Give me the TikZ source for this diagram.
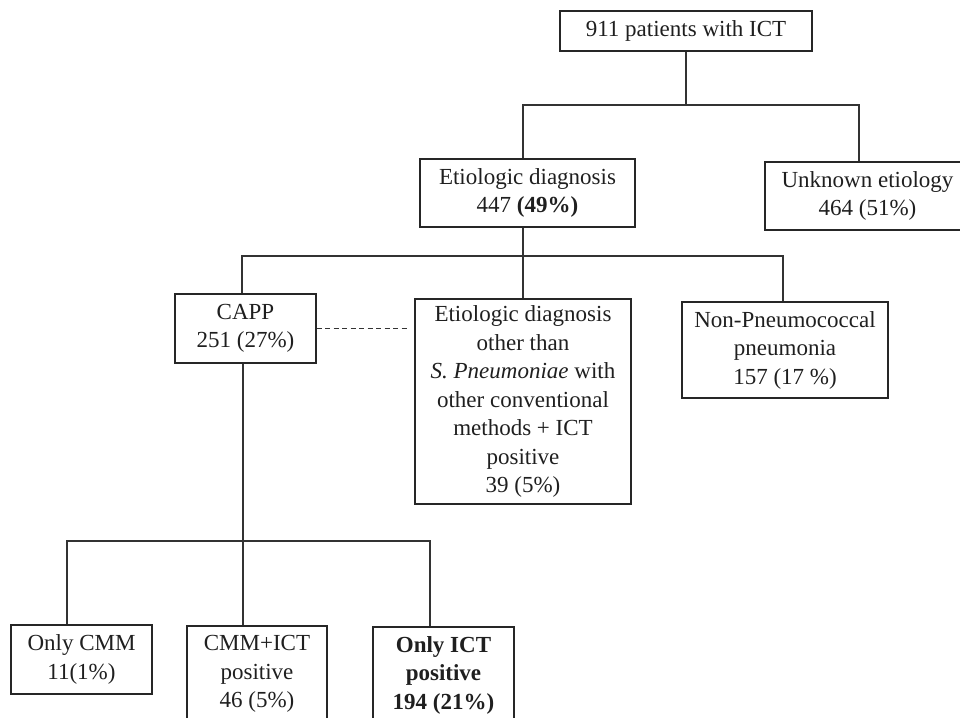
\documentclass[tikz,border=0pt]{standalone}
\usepackage{fontspec}
\setmainfont{Liberation Serif}
\begin{document}
\begin{tikzpicture}[x=1pt,y=-1pt,
  box/.style={draw=black!85, line width=1.4pt, align=center, inner sep=0pt,
    font=\fontsize{23}{28.5}\selectfont, text=black!88},
  conn/.style={draw=black!80, line width=1.4pt},
  dashline/.style={conn, dash pattern=on 5pt off 3.5pt}]
\useasboundingbox (0,0) rectangle (960,717);
\node[box, minimum width=252pt, minimum height=40pt] (top) at (686,31) {911 patients with ICT};
\node[box, minimum width=215pt, minimum height=68pt] (etio) at (527.5,193) {Etiologic diagnosis\\447 \textbf{(49\%)}};
\node[box, minimum width=205pt, minimum height=68pt] (unk) at (867.5,196) {Unknown etiology\\464 (51\%)};
\node[box, minimum width=141pt, minimum height=69pt] (capp) at (245.5,328.5) {CAPP\\251 (27\%)};
\node[box, minimum width=216pt, minimum height=205pt] (other) at (523,401.5) {Etiologic diagnosis\\other than\\\textit{S. Pneumoniae} with\\other conventional\\methods + ICT\\positive\\39 (5\%)};
\node[box, minimum width=206pt, minimum height=96pt] (nonp) at (785,350) {Non-Pneumococcal\\pneumonia\\157 (17 \%)};
\node[box, minimum width=141pt, minimum height=69pt] (cmm) at (81.5,659.5) {Only CMM\\11(1\%)};
\node[box, minimum width=140pt, minimum height=96pt] (cmmict) at (257,674) {CMM+ICT\\positive\\46 (5\%)};
\node[box, minimum width=141pt, minimum height=96pt, font=\fontsize{23}{28.5}\selectfont\bfseries] (ict) at (443.5,675) {Only ICT\\positive\\194 (21\%)};
% level 1
\coordinate (j1) at (686,105);
\draw[conn] (top.south) -- (j1);
\draw[conn] ([xshift=-4.5pt]etio.north) |- (j1) -| ([xshift=-8.5pt]unk.north);
% level 2
\coordinate (j2) at (523,256);
\draw[conn] ([xshift=-4.5pt]etio.south) -- (other.north);
\draw[conn] ([xshift=-3.5pt]capp.north) |- (j2) -| ([xshift=-2pt]nonp.north);
\draw[dashline] (capp.east) -- ([xshift=-5pt]capp.east -| other.west);
% level 3
\coordinate (j3) at (243,541);
\draw[conn] ([xshift=-2.5pt]capp.south) -- (j3);
\draw[conn] ([xshift=-14.5pt]cmm.north) |- (j3) -| ([xshift=-13.5pt]ict.north);
\draw[conn] (j3) -- (cmmict.north -| j3);
\end{tikzpicture}
\end{document}
